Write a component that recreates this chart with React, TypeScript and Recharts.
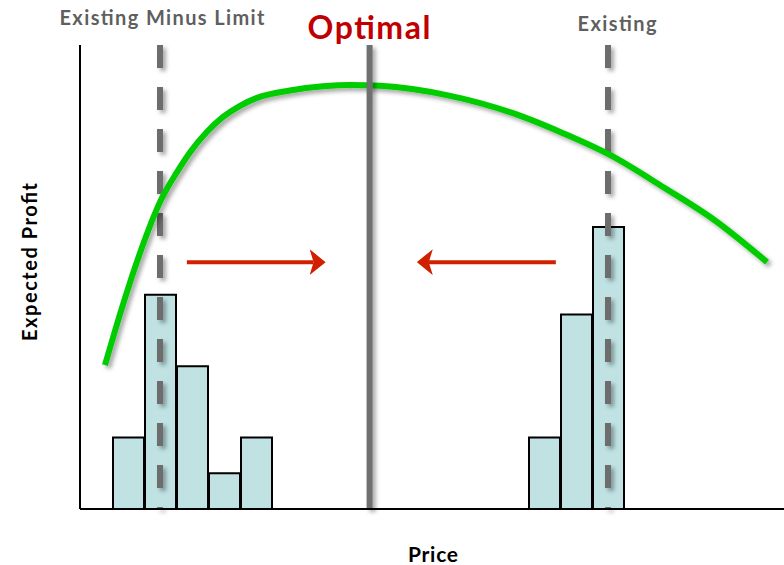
import { ComposedChart, Bar, Line, XAxis, YAxis, ReferenceLine } from 'recharts';

// histogram of current prices (price bin centre -> number of items)
const binPrices = [1.5, 2.5, 3.5, 4.5, 5.5, 14.5, 15.5, 16.5];
const binCounts = [2, 6, 4, 1, 2, 2, 5.45, 7.9];

// expected profit curve over price
const curvePrices = [0.78, 1.34, 1.88, 2.53, 3.03, 3.44, 3.97, 4.47, 5.0, 5.53, 6.56, 7.59, 8.44, 9.38, 11.46, 13.53, 15.09, 16.56, 18.22, 19.78, 21.47];
const curveProfit = [31.0, 44.0, 55.3, 66.6, 72.6, 76.9, 81.3, 84.5, 86.9, 88.6, 90.2, 91.1, 91.4, 91.2, 89.2, 85.3, 81.0, 76.3, 69.4, 62.5, 53.2];

// markers on the price axis
const minusLimitPrice = 2.5;
const existingPrice = 16.5;
const optimalPrice = 9.05;

// arrows pointing toward the optimum
const arrowLevel = 53.2;
const arrowRight = [3.34, 7.3];
const arrowLeft = [14.87, 10.9];

const bins = binPrices.map((price, i) => ({ price, count: binCounts[i] }));
const curve = curvePrices.map((price, i) => ({ price, profit: curveProfit[i] }));

const W = 784;
const H = 565;
const font = 'Lato, "Open Sans", sans-serif';

export default function App() {
  return (
    <div style={{ position: 'absolute', left: 0, top: 0, width: W, height: H, background: '#fff' }}>
      <svg width={0} height={0} style={{ position: 'absolute' }}>
        <defs>
          <filter id="dropShadow" filterUnits="userSpaceOnUse" x={0} y={0} width={W} height={H}>
            <feDropShadow dx={3} dy={3} stdDeviation={2} floodColor="#000" floodOpacity={0.35} />
          </filter>
          <marker id="arrowHead" markerUnits="userSpaceOnUse" markerWidth={16} markerHeight={26}
            refX={4} refY={13} orient="auto">
            <path d="M0,0 L16,13 L0,26 L4,13 Z" fill="#d02000" />
          </marker>
        </defs>
      </svg>
      <ComposedChart width={W} height={H} data={bins} margin={{ top: 45, right: 0, left: 20, bottom: 26 }}>
        <XAxis type="number" dataKey="price" domain={[0, 22]} allowDataOverflow height={30}
          tick={false} tickLine={false} axisLine={{ stroke: '#000', strokeWidth: 2 }} />
        {/* separate x axis for the curve so its points don't shrink the bar band */}
        <XAxis xAxisId="curve" type="number" dataKey="price" domain={[0, 22]} allowDataOverflow hide />
        <YAxis yAxisId="count" domain={[0, 13]} width={60} allowDataOverflow
          tick={false} tickLine={false} axisLine={{ stroke: '#000', strokeWidth: 2 }} />
        <YAxis yAxisId="profit" orientation="right" domain={[0, 100]} hide allowDataOverflow />

        {/* dashed markers sit under the translucent bars */}
        <ReferenceLine yAxisId="count" segment={[{ x: minusLimitPrice, y: 13 }, { x: minusLimitPrice, y: 0 }]}
          stroke="#6d6d6d" strokeWidth={6} strokeDasharray="23 19" filter="url(#dropShadow)" />
        <ReferenceLine yAxisId="count" segment={[{ x: existingPrice, y: 13 }, { x: existingPrice, y: 0 }]}
          stroke="#6d6d6d" strokeWidth={6} strokeDasharray="23 19" filter="url(#dropShadow)" />

        <Bar yAxisId="count" dataKey="count" barSize={31} fill="#86c7c9" fillOpacity={0.52}
          stroke="#000" strokeWidth={2} isAnimationActive={false} />

        <Line xAxisId="curve" yAxisId="profit" data={curve} dataKey="profit" type="monotone" stroke="#00cc00"
          strokeWidth={6} dot={false} activeDot={false} filter="url(#dropShadow)" isAnimationActive={false} />

        <ReferenceLine yAxisId="count" x={optimalPrice} stroke="#707070" strokeWidth={6} filter="url(#dropShadow)" />

        <ReferenceLine yAxisId="profit"
          segment={[{ x: arrowRight[0], y: arrowLevel }, { x: arrowRight[1], y: arrowLevel }]}
          stroke="#d02000" strokeWidth={4} markerEnd="url(#arrowHead)" />
        <ReferenceLine yAxisId="profit"
          segment={[{ x: arrowLeft[0], y: arrowLevel }, { x: arrowLeft[1], y: arrowLevel }]}
          stroke="#d02000" strokeWidth={4} markerEnd="url(#arrowHead)" />
      </ComposedChart>

      <svg width={W} height={H} style={{ position: 'absolute', left: 0, top: 0, pointerEvents: 'none' }}
        fontFamily={font} fontWeight={700}>
        <text x={162} y={25} textAnchor="middle" fontSize={20} fill="#5f5f5f" textLength={205}>Existing Minus Limit</text>
        <text x={369} y={39} textAnchor="middle" fontSize={32} fill="#c00000" textLength={123}>Optimal</text>
        <text x={617} y={31} textAnchor="middle" fontSize={20} fill="#5f5f5f" textLength={79}>Existing</text>
        <text x={433} y={562} textAnchor="middle" fontSize={21} fill="#000" textLength={50}>Price</text>
        <text x={37} y={262} textAnchor="middle" fontSize={20} fill="#000" textLength={158}
          transform="rotate(-90 37 262)">Expected Profit</text>
      </svg>
    </div>
  );
}
